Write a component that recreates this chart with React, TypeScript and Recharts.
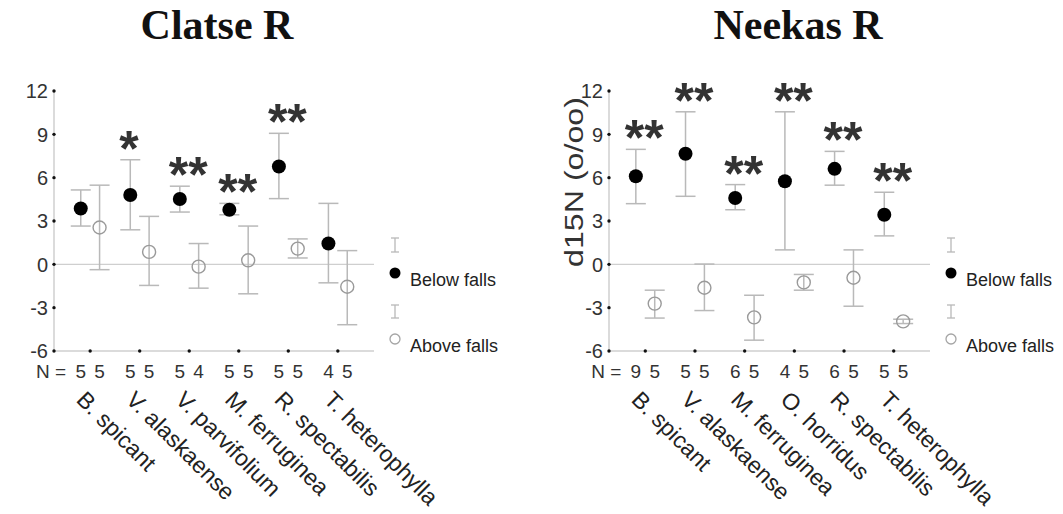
import React from 'react';
import { ScatterChart, Scatter, XAxis, YAxis, ErrorBar, ReferenceLine } from 'recharts';

// Clatse River
const clatseSpecies = ['B. spicant', 'V. alaskaense', 'V. parvifolium', 'M. ferruginea', 'R. spectabilis', 'T. heterophylla'];
const clatseBelowMean = [3.87, 4.8, 4.52, 3.78, 6.77, 1.44];
const clatseBelowHigh = [5.15, 7.24, 5.41, 4.22, 9.07, 4.22];
const clatseBelowLow = [2.65, 2.39, 3.62, 3.43, 4.55, -1.28];
const clatseAboveMean = [2.55, 0.86, -0.16, 0.28, 1.09, -1.55];
const clatseAboveHigh = [5.48, 3.32, 1.44, 2.65, 1.76, 0.95];
const clatseAboveLow = [-0.37, -1.46, -1.65, -2.04, 0.44, -4.18];
const clatseBelowN = [5, 5, 5, 5, 5, 4];
const clatseAboveN = [5, 5, 4, 5, 5, 5];
const clatseSig = ['', '*', '**', '**', '**', ''];

// Neekas River
const neekasSpecies = ['B. spicant', 'V. alaskaense', 'M. ferruginea', 'O. horridus', 'R. spectabilis', 'T. heterophylla'];
const neekasBelowMean = [6.1, 7.66, 4.59, 5.75, 6.61, 3.43];
const neekasBelowHigh = [7.96, 10.56, 5.52, 10.56, 7.82, 4.99];
const neekasBelowLow = [4.2, 4.71, 3.78, 1.0, 5.48, 1.97];
const neekasAboveMean = [-2.72, -1.62, -3.67, -1.25, -0.93, -3.95];
const neekasAboveHigh = [-1.79, 0.02, -2.14, -0.7, 1.0, -3.8];
const neekasAboveLow = [-3.72, -3.2, -5.25, -1.79, -2.9, -4.1];
const neekasBelowN = [9, 5, 6, 4, 6, 5];
const neekasAboveN = [5, 5, 5, 5, 5, 5];
const neekasSig = ['**', '**', '**', '**', '**', '**'];

const yTicks = [-6, -3, 0, 3, 6, 9, 12];
const xTicks = [1, 2, 3, 4, 5, 6];

const SANS = '"Liberation Sans", Arial, sans-serif';
const SHIFT = 0.19; // offset of the two groups around each species
const PX_SHIFT = 9.4;
const BAR = '#b9b9b9';

const rows = (mean: number[], hi: number[], lo: number[], shift: number) =>
  mean.map((m, i) => ({ x: i + 1 + shift, y: m, err: [m - lo[i], hi[i] - m] }));

const YTick = ({ x, y, payload }: any) => (
  <g>
    <circle cx={x} cy={y} r={1.7} fill="#111" />
    <text x={x - 6} y={y} dy="0.36em" textAnchor="end" fontSize={20} fill="#333" fontFamily={SANS}>
      {payload.value}
    </text>
  </g>
);

const makeXTick = (species: string[], belowN: number[], aboveN: number[]) => ({ x, y, payload }: any) => {
  const i = Math.round(payload.value) - 1;
  const t = { fontSize: 19, fill: '#333', fontFamily: SANS };
  return (
    <g>
      <circle cx={x} cy={y} r={1.7} fill="#111" />
      {i === 0 && (
        <text x={x - 24} y={y + 27} textAnchor="end" {...t}>N =</text>
      )}
      <text x={x - PX_SHIFT} y={y + 27} textAnchor="middle" {...t}>{belowN[i]}</text>
      <text x={x + PX_SHIFT} y={y + 27} textAnchor="middle" {...t}>{aboveN[i]}</text>
      <text transform={`translate(${x - 15}, ${y + 50}) rotate(45)`} fontSize={23} fill="#222" fontFamily={SANS}>
        {species[i]}
      </text>
    </g>
  );
};

const FilledDot = ({ cx, cy }: any) => <circle cx={cx} cy={cy} r={7} fill="#000" />;
const OpenDot = ({ cx, cy }: any) => <circle cx={cx} cy={cy} r={6.5} fill="none" stroke="#9a9a9a" strokeWidth={1.4} />;
const Star = ({ cx, cy, payload }: any) =>
  payload.sig ? (
    <text x={cx - 11} y={cy + 6} fontSize={50} fontWeight="bold" fill="#333" fontFamily={SANS}>{payload.sig}</text>
  ) : (
    <g />
  );

interface PanelProps {
  species: string[];
  belowMean: number[];
  belowHigh: number[];
  belowLow: number[];
  aboveMean: number[];
  aboveHigh: number[];
  aboveLow: number[];
  belowN: number[];
  aboveN: number[];
  sig: string[];
  width: number;
  margin: { top: number; right: number; bottom: number; left: number };
}

function Panel(p: PanelProps) {
  const below = rows(p.belowMean, p.belowHigh, p.belowLow, -SHIFT);
  const above = rows(p.aboveMean, p.aboveHigh, p.aboveLow, SHIFT);
  const stars = p.sig.map((s, i) => ({ x: i + 1 - SHIFT, y: p.belowHigh[i], sig: s }));
  return (
    <ScatterChart width={p.width} height={514} margin={p.margin}>
      <XAxis
        type="number"
        dataKey="x"
        domain={[0.27, 6.73]}
        ticks={xTicks}
        height={130}
        tickSize={0}
        tickMargin={0}
        tickLine={false}
        axisLine={{ stroke: '#cfcfcf', strokeWidth: 1.5 }}
        tick={makeXTick(p.species, p.belowN, p.aboveN)}
        interval={0}
      />
      <YAxis
        type="number"
        dataKey="y"
        domain={[-6, 12]}
        ticks={yTicks}
        width={40}
        tickSize={0}
        tickMargin={0}
        tickLine={false}
        axisLine={{ stroke: '#cfcfcf', strokeWidth: 1.5 }}
        tick={<YTick />}
        interval={0}
      />
      <ReferenceLine y={0} stroke="#cfcfcf" strokeWidth={1.3} />
      <Scatter data={below} shape={<FilledDot />} isAnimationActive={false}>
        <ErrorBar dataKey="err" direction="y" width={10} stroke={BAR} strokeWidth={1.5} />
      </Scatter>
      <Scatter data={above} shape={<OpenDot />} isAnimationActive={false}>
        <ErrorBar dataKey="err" direction="y" width={10} stroke={BAR} strokeWidth={1.5} />
      </Scatter>
      <Scatter data={stars} shape={<Star />} isAnimationActive={false} />
    </ScatterChart>
  );
}

function LegendBlock({ x }: { x: number }) {
  const cap = (y1: number, y2: number) => (
    <g stroke={BAR} strokeWidth={1.3}>
      <line x1={x} y1={y1} x2={x} y2={y2} />
      <line x1={x - 4} y1={y1} x2={x + 4} y2={y1} />
      <line x1={x - 4} y1={y2} x2={x + 4} y2={y2} />
    </g>
  );
  return (
    <g fontFamily={SANS} fontSize={18} fill="#222">
      {cap(238, 252)}
      <circle cx={x} cy={273} r={5.5} fill="#000" />
      <text x={x + 15} y={286}>Below falls</text>
      {cap(305, 318)}
      <circle cx={x} cy={339} r={5} fill="none" stroke="#a5a5a5" strokeWidth={1.3} />
      <text x={x + 15} y={352}>Above falls</text>
    </g>
  );
}

export default function App() {
  return (
    <div style={{ position: 'absolute', left: 0, top: 0, width: 1063, height: 514, background: '#fff' }}>
      <div style={{ position: 'absolute', left: 0, top: 0 }}>
        <Panel
          species={clatseSpecies}
          belowMean={clatseBelowMean}
          belowHigh={clatseBelowHigh}
          belowLow={clatseBelowLow}
          aboveMean={clatseAboveMean}
          aboveHigh={clatseAboveHigh}
          aboveLow={clatseAboveLow}
          belowN={clatseBelowN}
          aboveN={clatseAboveN}
          sig={clatseSig}
          width={531}
          margin={{ top: 91, right: 157, bottom: 33, left: 14 }}
        />
      </div>
      <div style={{ position: 'absolute', left: 531, top: 0 }}>
        <Panel
          species={neekasSpecies}
          belowMean={neekasBelowMean}
          belowHigh={neekasBelowHigh}
          belowLow={neekasBelowLow}
          aboveMean={neekasAboveMean}
          aboveHigh={neekasAboveHigh}
          aboveLow={neekasAboveLow}
          belowN={neekasBelowN}
          aboveN={neekasAboveN}
          sig={neekasSig}
          width={532}
          margin={{ top: 91, right: 133, bottom: 33, left: 38 }}
        />
      </div>
      <svg width={1063} height={514} style={{ position: 'absolute', left: 0, top: 0, pointerEvents: 'none' }}>
        <g fontFamily='"Liberation Serif", "Times New Roman", serif' fontWeight="bold" fontSize={42} fill="#111" textAnchor="middle">
          <text x={217} y={39}>Clatse R</text>
          <text x={798} y={39}>Neekas R</text>
        </g>
        <text
          transform="translate(583, 182) rotate(-90)"
          textAnchor="middle"
          fontFamily={SANS}
          fontSize={25}
          fill="#333"
          textLength={170}
          lengthAdjust="spacingAndGlyphs"
        >
          d15N (o/oo)
        </text>
        <LegendBlock x={395} />
        <LegendBlock x={951} />
      </svg>
    </div>
  );
}
